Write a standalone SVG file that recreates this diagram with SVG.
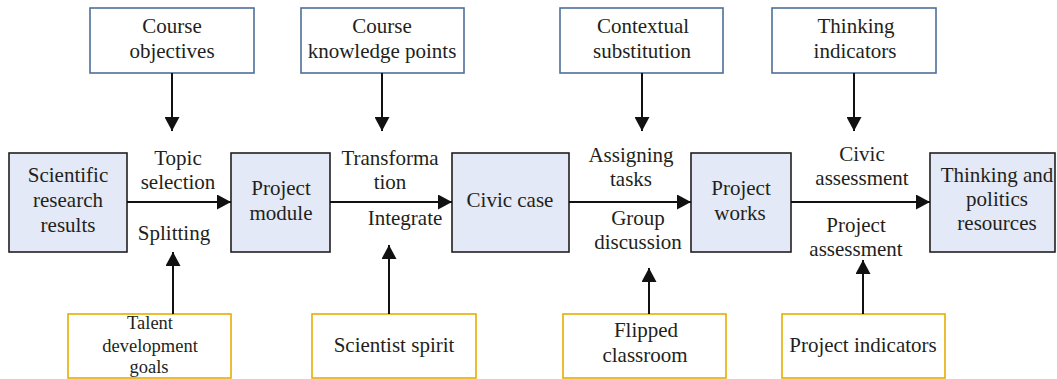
<svg xmlns="http://www.w3.org/2000/svg" width="1057" height="379" viewBox="0 0 1057 379" font-family="Liberation Serif, Tinos, Times New Roman, DejaVu Serif, serif">
<style>
text{font-family:'Liberation Serif','Tinos','Times New Roman','DejaVu Serif',serif;font-size:21px;fill:#231f20;text-anchor:middle}
.top rect{fill:#fff;stroke:#4d6f99;stroke-width:1.6}
.main rect{fill:#e3e9f7;stroke:#231f20;stroke-width:1.6}
.bot rect{fill:#fff;stroke:#e6ad00;stroke-width:1.6}
.small{font-size:18.5px}
#connectors line{stroke:#111;stroke-width:2;marker-end:url(#ah)}
</style>
<defs>
<marker id="ah" markerUnits="userSpaceOnUse" markerWidth="15" markerHeight="15" refX="14" refY="7.5" orient="auto" viewBox="0 0 15 15">
<path d="M0,0 L14,7.5 L0,15 Z" fill="#111"/>
</marker>
</defs>
<rect width="1057" height="379" fill="#fff"/>

<g id="course-objectives" class="top"><rect x="90" y="8" width="164" height="65"/><text x="172" y="33">Course</text><text x="172" y="58">objectives</text></g>
<g id="course-knowledge-points" class="top"><rect x="301" y="8" width="163" height="65"/><text x="382" y="33">Course</text><text x="382" y="58">knowledge points</text></g>
<g id="contextual-substitution" class="top"><rect x="560" y="8" width="163" height="65"/><text x="643" y="33">Contextual</text><text x="642" y="58">substitution</text></g>
<g id="thinking-indicators" class="top"><rect x="772" y="8" width="164" height="65"/><text x="856" y="33">Thinking</text><text x="855" y="58">indicators</text></g>

<g id="scientific-research-results" class="main"><rect x="9" y="153" width="118" height="99"/><text x="68" y="182">Scientific</text><text x="68" y="207">research</text><text x="68" y="232">results</text></g>
<g id="project-module" class="main"><rect x="231" y="153" width="99" height="99"/><text x="281" y="195">Project</text><text x="281" y="220">module</text></g>
<g id="civic-case" class="main"><rect x="452" y="153" width="117" height="99"/><text x="510" y="207">Civic case</text></g>
<g id="project-works" class="main"><rect x="691" y="153" width="100" height="99"/><text x="741" y="195">Project</text><text x="740" y="220">works</text></g>
<g id="thinking-politics-resources" class="main"><rect x="930" y="153" width="125" height="99"/><text x="997" y="182">Thinking and</text><text x="997" y="206">politics</text><text x="997" y="230">resources</text></g>

<g id="talent-development-goals" class="bot"><rect x="68" y="314" width="163" height="64"/><text class="small" x="150" y="329">Talent</text><text class="small" x="150" y="352">development</text><text class="small" x="149" y="373">goals</text></g>
<g id="scientist-spirit" class="bot"><rect x="312" y="314" width="164" height="64"/><text x="394" y="352">Scientist spirit</text></g>
<g id="flipped-classroom" class="bot"><rect x="563" y="314" width="163" height="64"/><text x="646" y="337">Flipped</text><text x="645" y="362">classroom</text></g>
<g id="project-indicators" class="bot"><rect x="782" y="314" width="163" height="64"/><text x="863" y="352">Project indicators</text></g>

<g id="connectors">
<line x1="127" y1="202" x2="231" y2="202"/>
<line x1="330" y1="202" x2="452" y2="202"/>
<line x1="569" y1="202" x2="691" y2="202"/>
<line x1="791" y1="202" x2="930" y2="202"/>
<line x1="172" y1="73" x2="172" y2="131"/>
<line x1="382" y1="73" x2="382" y2="131"/>
<line x1="642" y1="73" x2="642" y2="131"/>
<line x1="854" y1="73" x2="854" y2="131"/>
<line x1="173" y1="314" x2="173" y2="252"/>
<line x1="389" y1="314" x2="389" y2="245"/>
<line x1="649" y1="314" x2="649" y2="268"/>
<line x1="863" y1="314" x2="863" y2="260"/>
</g>

<g id="edge-labels">
<text x="178" y="165">Topic</text><text x="178" y="189">selection</text>
<text x="174" y="240">Splitting</text>
<text x="390" y="165">Transforma</text><text x="390" y="189">tion</text>
<text x="405" y="225">Integrate</text>
<text x="631" y="162">Assigning</text><text x="631" y="186">tasks</text>
<text x="638" y="225">Group</text><text x="638" y="249">discussion</text>
<text x="862" y="161">Civic</text><text x="862" y="185">assessment</text>
<text x="856" y="232">Project</text><text x="856" y="256">assessment</text>
</g>
</svg>
